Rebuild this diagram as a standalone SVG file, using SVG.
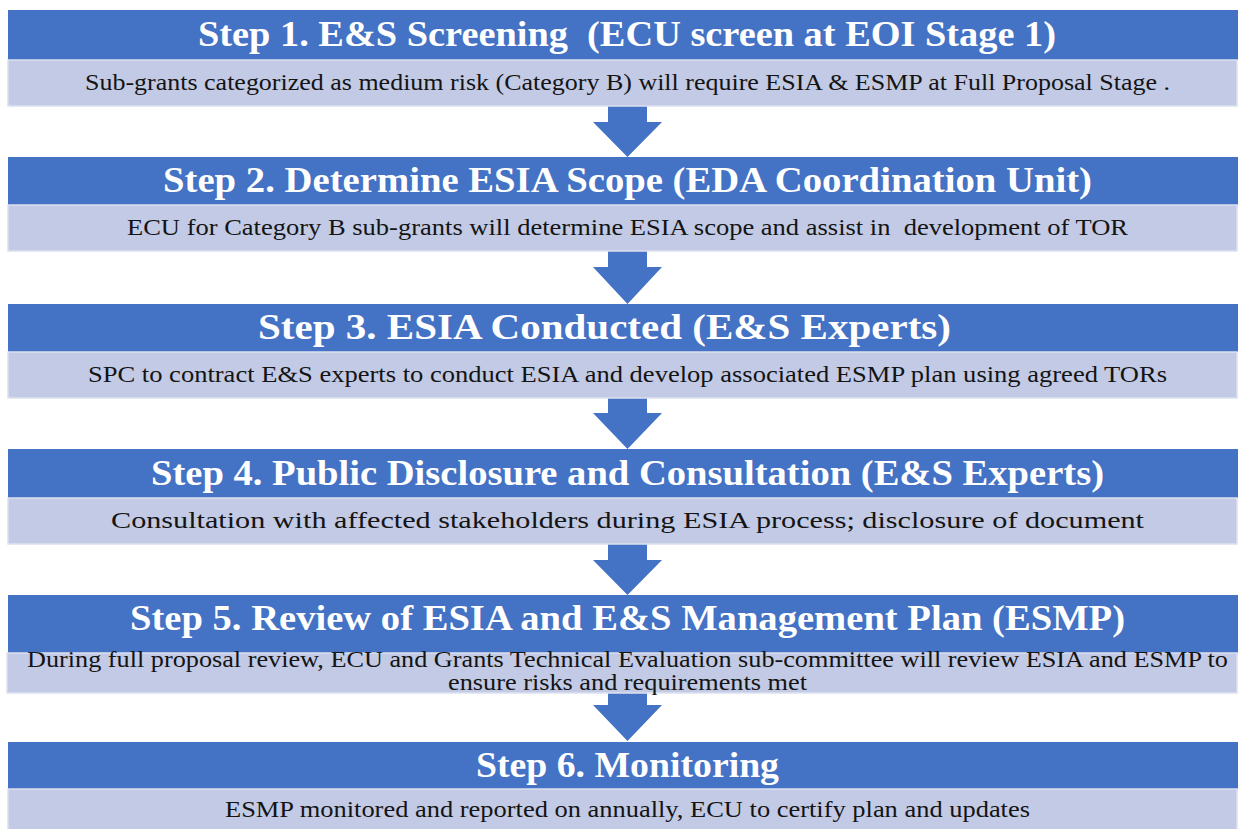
<svg xmlns="http://www.w3.org/2000/svg" width="1238" height="829" viewBox="0 0 1238 829">
<style>
.hd{fill:#4472C4;}
.bd{fill:#C2CAE5;stroke:#DCE1F0;stroke-width:1.5;}
.tt{font-family:"Liberation Serif","Times New Roman",serif;font-weight:bold;font-size:35px;fill:#FFFFFF;}
.tx{font-family:"Liberation Serif","Times New Roman",serif;font-size:24px;fill:#141414;}
.sm{font-size:23px;}
.ar{fill:#4472C4;}
</style>
<rect width="1238" height="829" fill="#FFFFFF"/>
<g id="connectors">
<polygon class="ar" points="608,106 647,106 647,122 662,122 627.5,157 593,122 608,122"/>
<polygon class="ar" points="608,251 647,251 647,267 662,267 627.5,304 593,267 608,267"/>
<polygon class="ar" points="608,398 647,398 647,413 662,413 627.5,449 593,413 608,413"/>
<polygon class="ar" points="608,544 647,544 647,560 662,560 627.5,595 593,560 608,560"/>
<polygon class="ar" points="608,693 647,693 647,705 662,705 627.5,741 593,705 608,705"/>
</g>
<g id="step1">
<rect class="hd" x="8" y="10" width="1230" height="50"/>
<rect class="bd" x="8" y="60" width="1229" height="46"/>
<text class="tt" x="198" y="46" textLength="858" lengthAdjust="spacingAndGlyphs" xml:space="preserve">Step 1. E&amp;S Screening  (ECU screen at EOI Stage 1)</text>
<text class="tx" x="85" y="90" textLength="1085" lengthAdjust="spacingAndGlyphs">Sub-grants categorized as medium risk (Category B) will require ESIA &amp; ESMP at Full Proposal Stage .</text>
</g>
<g id="step2">
<rect class="hd" x="8" y="157" width="1230" height="48"/>
<rect class="bd" x="8" y="205" width="1229" height="46"/>
<text class="tt" x="163" y="192" textLength="929" lengthAdjust="spacingAndGlyphs">Step 2. Determine ESIA Scope (EDA Coordination Unit)</text>
<text class="tx" x="127" y="235" textLength="1001" lengthAdjust="spacingAndGlyphs" xml:space="preserve">ECU for Category B sub-grants will determine ESIA scope and assist in  development of TOR</text>
</g>
<g id="step3">
<rect class="hd" x="8" y="304" width="1230" height="48"/>
<rect class="bd" x="8" y="352" width="1229" height="46"/>
<text class="tt" x="258" y="339" textLength="693" lengthAdjust="spacingAndGlyphs">Step 3. ESIA Conducted (E&amp;S Experts)</text>
<text class="tx" x="88" y="382" textLength="1079" lengthAdjust="spacingAndGlyphs">SPC to contract E&amp;S experts to conduct ESIA and develop associated ESMP plan using agreed TORs</text>
</g>
<g id="step4">
<rect class="hd" x="8" y="449" width="1230" height="49"/>
<rect class="bd" x="8" y="498" width="1229" height="46"/>
<text class="tt" x="151" y="485" textLength="953" lengthAdjust="spacingAndGlyphs">Step 4. Public Disclosure and Consultation (E&amp;S Experts)</text>
<text class="tx" x="111" y="528" textLength="1033" lengthAdjust="spacingAndGlyphs">Consultation with affected stakeholders during ESIA process; disclosure of document</text>
</g>
<g id="step5">
<rect class="hd" x="8" y="595" width="1230" height="58"/>
<rect class="bd" x="7" y="653" width="1230" height="40"/>
<text class="tt" x="130" y="630" textLength="995" lengthAdjust="spacingAndGlyphs">Step 5. Review of ESIA and E&amp;S Management Plan (ESMP)</text>
<text class="tx sm" x="27" y="667" textLength="1201" lengthAdjust="spacingAndGlyphs">During full proposal review, ECU and Grants Technical Evaluation sub-committee will review ESIA and ESMP to</text>
<text class="tx sm" x="448" y="690" textLength="359" lengthAdjust="spacingAndGlyphs">ensure risks and requirements met</text>
</g>
<g id="step6">
<rect class="hd" x="8" y="742" width="1230" height="47"/>
<rect class="bd" x="8" y="789" width="1229" height="42"/>
<text class="tt" x="476" y="777" textLength="303" lengthAdjust="spacingAndGlyphs">Step 6. Monitoring</text>
<text class="tx" x="225" y="817" textLength="805" lengthAdjust="spacingAndGlyphs">ESMP monitored and reported on annually, ECU to certify plan and updates</text>
</g>
</svg>
